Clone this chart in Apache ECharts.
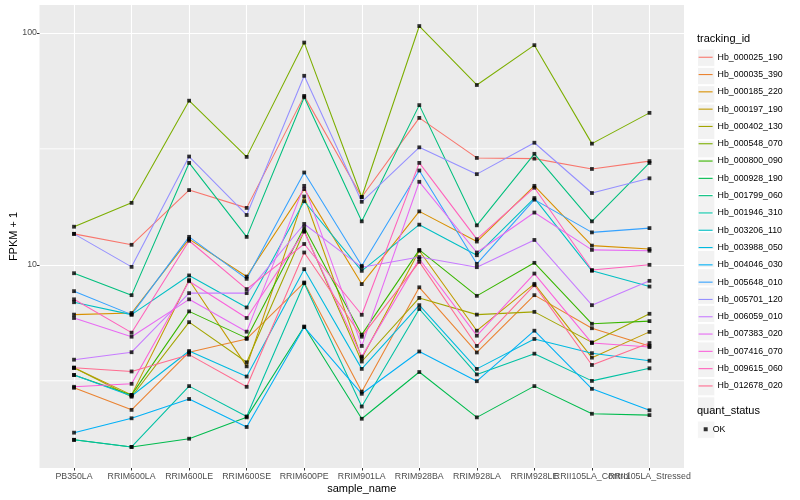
<!DOCTYPE html>
<html><head><meta charset="utf-8">
<script src="https://cdn.jsdelivr.net/npm/echarts@6/dist/echarts.min.js"></script>
<style>html,body{margin:0;padding:0;background:#fff}#c{width:800px;height:500px}</style>
</head><body><div id="c"></div>
<script>
const categories = ["PB350LA","RRIM600LA","RRIM600LE","RRIM600SE","RRIM600PE","RRIM901LA","RRIM928BA","RRIM928LA","RRIM928LE","RRII105LA_Control","RRII105LA_Stressed"];
const trackingIds = ["Hb_000025_190","Hb_000035_390","Hb_000185_220","Hb_000197_190","Hb_000402_130","Hb_000548_070","Hb_000800_090","Hb_000928_190","Hb_001799_060","Hb_001946_310","Hb_003206_110","Hb_003988_050","Hb_004046_030","Hb_005648_010","Hb_005701_120","Hb_006059_010","Hb_007383_020","Hb_007416_070","Hb_009615_060","Hb_012678_020"];
const trackingColors = ["#F8766D","#EA8331","#D89000","#C09B00","#A3A500","#7CAE00","#39B600","#00BB4E","#00BF7D","#00C1A3","#00BFC4","#00BAE0","#00B0F6","#35A2FF","#9590FF","#C77CFF","#E76BF3","#FA62DB","#FF62BC","#FF6C90"];
const yTickValues = [10, 100];
const yTickLabels = ["10", "100"];
const yMinorValues = [3.1623, 31.623];

const Hb_000025_190 = [13.6, 12.2, 21.0, 17.6, 53.5, 19.6, 43.0, 28.9, 28.7, 25.9, 28.0];
const Hb_000035_390 = [2.95, 2.37, 4.2, 4.79, 8.39, 2.84, 8.0, 4.19, 7.4, 5.33, 4.47];
const Hb_000185_220 = [6.1, 6.2, 12.9, 8.9, 21.2, 8.26, 17.0, 12.6, 21.9, 12.1, 11.7];
const Hb_000197_190 = [3.6, 2.75, 8.6, 3.65, 19.7, 3.96, 11.5, 5.2, 8.28, 3.98, 5.14];
const Hb_000402_130 = [3.6, 2.7, 5.66, 3.8, 14.0, 3.83, 7.2, 6.1, 6.27, 4.63, 6.15];
const Hb_000548_070 = [14.6, 18.5, 51.0, 29.2, 90.8, 19.6, 107, 59.6, 88.5, 33.3, 45.2];
const Hb_000800_090 = [3.35, 2.75, 6.3, 4.83, 14.5, 5.0, 11.6, 7.35, 10.2, 5.57, 5.72];
const Hb_000928_190 = [1.76, 1.64, 1.78, 2.2, 5.42, 2.17, 3.45, 2.2, 3.0, 2.28, 2.25];
const Hb_001799_060 = [9.2, 7.4, 27.5, 13.2, 52.8, 15.4, 48.8, 14.8, 30.1, 15.4, 27.5];
const Hb_001946_310 = [1.76, 1.64, 3.0, 2.22, 8.33, 2.45, 6.45, 3.37, 4.14, 3.16, 3.58];
const Hb_003206_110 = [6.9, 6.1, 9.0, 6.55, 18.8, 9.42, 14.9, 11.0, 19.4, 9.42, 8.06];
const Hb_003988_050 = [3.35, 2.72, 4.25, 3.3, 9.58, 3.56, 6.7, 3.56, 4.79, 4.16, 3.86];
const Hb_004046_030 = [1.89, 2.18, 2.64, 2.0, 5.39, 2.78, 4.23, 3.15, 5.2, 2.92, 2.36];
const Hb_005648_010 = [7.7, 6.1, 13.2, 8.7, 25.0, 9.9, 25.5, 10.1, 19.1, 13.8, 14.4];
const Hb_005701_120 = [13.6, 9.8, 29.3, 16.4, 65.3, 18.7, 32.1, 24.6, 33.6, 20.4, 23.6];
const Hb_006059_010 = [3.9, 4.2, 7.55, 7.55, 15.0, 9.77, 10.8, 9.77, 12.8, 6.7, 8.53];
const Hb_007383_020 = [5.9, 4.9, 7.1, 5.15, 21.9, 4.47, 22.8, 11.3, 16.8, 11.6, 11.5];
const Hb_007416_070 = [2.98, 3.07, 8.5, 5.9, 13.9, 4.02, 10.6, 4.95, 9.17, 4.6, 4.42];
const Hb_009615_060 = [7.1, 5.1, 12.7, 7.86, 12.3, 6.09, 27.5, 12.9, 21.5, 9.5, 10.0];
const Hb_012678_020 = [3.6, 3.47, 4.1, 2.98, 11.3, 4.9, 10.3, 4.47, 8.17, 3.7, 4.6];

const trackingValues = [Hb_000025_190, Hb_000035_390, Hb_000185_220, Hb_000197_190, Hb_000402_130, Hb_000548_070, Hb_000800_090, Hb_000928_190, Hb_001799_060, Hb_001946_310, Hb_003206_110, Hb_003988_050, Hb_004046_030, Hb_005648_010, Hb_005701_120, Hb_006059_010, Hb_007383_020, Hb_007416_070, Hb_009615_060, Hb_012678_020];

// ggplot-like expansion: discrete axis 0.6 units each side, log axis 5% each side
const xMin = -0.6, xMax = categories.length - 1 + 0.6;
const allVals = [].concat(...trackingValues);
const lmin = Math.log10(Math.min(...allVals)), lmax = Math.log10(Math.max(...allVals));
const span = lmax - lmin;
const yMin = Math.pow(10, lmin - 0.05 * span), yMax = Math.pow(10, lmax + 0.05 * span);

const FONT = "'Liberation Sans', Arial, Helvetica, sans-serif";
const catIdx = categories.map((c, i) => i);
const catEven = catIdx.filter(i => i % 2 === 0);
const catOdd = catIdx.filter(i => i % 2 === 1);

// minor horizontal grid lines (ggplot minor breaks), spanning the panel, drawn first (under data lines)
const minorGridSeries = yMinorValues.map((v, j) => ({
  name: 'minorGrid' + j, type: 'line', data: [[xMin, v], [xMax, v]], showSymbol: false, symbol: 'none',
  clip: false, lineStyle: { color: '#FFFFFF', width: 0.9, opacity: 1 }, z: 2, silent: true, animation: false
}));
const lineSeries = trackingIds.map((id, k) => ({
  name: id, type: 'line', data: trackingValues[k].map((v, i) => [i, v]),
  showSymbol: false, symbol: 'none', color: trackingColors[k],
  lineStyle: { width: 1.07, color: trackingColors[k] }, z: 2, animation: false, silent: true
}));
const pointData = [];
trackingValues.forEach(arr => arr.forEach((v, i) => pointData.push([i, v])));
const pointSeries = { name: 'OK', type: 'scatter', data: pointData, symbol: 'rect', symbolSize: 3.8,
  itemStyle: { color: '#000' }, z: 3, animation: false, silent: true };

const xLabelBase = { color: '#4D4D4D', fontSize: 8.8, margin: 4, fontFamily: FONT, hideOverlap: false, showMinLabel: true, showMaxLabel: true,
  formatter: v => categories[Math.round(v)] };
function xAxisFor(vals, withName) {
  const ax = {
    type: 'value', min: xMin, max: xMax, position: 'bottom', offset: 0,
    axisLine: { show: false, onZero: false },
    axisTick: { show: true, length: 2.5, customValues: vals, lineStyle: { color: '#333', width: 1 } },
    axisLabel: Object.assign({ customValues: vals }, xLabelBase),
    splitLine: { show: true, lineStyle: { color: '#FFFFFF', width: 1.1 } }
  };
  if (withName) Object.assign(ax, { name: 'sample_name', nameLocation: 'middle', nameGap: 15, nameMoveOverlap: false,
    nameTextStyle: { color: '#000', fontSize: 11, fontFamily: FONT } });
  return ax;
}
const legendTop = 48.6, keyH = 17.3;
const option = {
  animation: false,
  textStyle: { fontFamily: FONT },
  grid: { left: 39.5, top: 5, width: 644.5, height: 463, show: true, backgroundColor: '#EBEBEB', borderWidth: 0, containLabel: false, outerBoundsMode: 'none' },
  xAxis: [xAxisFor(catEven, true), xAxisFor(catOdd, false)],
  yAxis: {
    type: 'log', logBase: 10, min: yMin, max: yMax,
    name: 'FPKM + 1', nameLocation: 'middle', nameGap: 20, nameMoveOverlap: false,
    nameTextStyle: { color: '#000', fontSize: 11, fontFamily: FONT },
    axisLine: { show: false, onZero: false },
    axisTick: { show: true, length: 2.5, customValues: yTickValues, lineStyle: { color: '#333', width: 1 } },
    axisLabel: { customValues: yTickValues, formatter: v => yTickLabels[yTickValues.indexOf(Math.round(v))] || String(v), color: '#4D4D4D', fontSize: 8.8, margin: 2.5, fontFamily: FONT, showMinLabel: true, showMaxLabel: true },
    splitLine: { show: true, lineStyle: { color: '#FFFFFF', width: 1.1 } }
  },
  legend: [
    { data: trackingIds, orient: 'vertical', left: 697, top: legendTop, padding: 0, itemWidth: keyH, itemHeight: keyH, itemGap: 0,
      icon: 'rect', itemStyle: { color: '#F2F2F2', borderColor: '#FFFFFF', borderWidth: 1 }, selectedMode: false,
      textStyle: { fontSize: 8.8, lineHeight: keyH, color: 'rgba(0,0,0,0)', fontFamily: FONT }, itemTextGap: 4 },
    { data: trackingIds, orient: 'vertical', left: 698.6, top: legendTop, padding: 0, itemWidth: 14, itemHeight: keyH, itemGap: 0,
      icon: 'path://M0,0H14V1.1H0Z', itemStyle: { borderWidth: 0 }, selectedMode: false,
      textStyle: { fontSize: 8.8, lineHeight: keyH, color: '#000', fontFamily: FONT }, itemTextGap: 3.4 },
    { data: ['OK'], orient: 'vertical', left: 697, top: 420.6, padding: 0, itemWidth: keyH, itemHeight: keyH, itemGap: 0,
      icon: 'rect', itemStyle: { color: '#F2F2F2', borderColor: '#FFFFFF', borderWidth: 1 }, selectedMode: false,
      textStyle: { fontSize: 8.8, lineHeight: keyH, color: 'rgba(0,0,0,0)', fontFamily: FONT } },
    { data: ['OK'], orient: 'vertical', left: 703.7, top: 420.6, padding: 0, itemWidth: 4, itemHeight: 4, itemGap: 0,
      icon: 'rect', itemStyle: { color: '#000', borderWidth: 0 }, selectedMode: false,
      textStyle: { fontSize: 8.8, lineHeight: keyH, color: '#000', fontFamily: FONT }, itemTextGap: 8.6 }
  ],
  graphic: [
    { type: 'text', left: 697, top: 33, z: 100, style: { text: 'tracking_id', fontSize: 11, fill: '#000', fontFamily: FONT } },
    { type: 'text', left: 697, top: 405, z: 100, style: { text: 'quant_status', fontSize: 11, fill: '#000', fontFamily: FONT } }
  ],
  series: minorGridSeries.concat(lineSeries, [pointSeries])
};
const chart = echarts.init(document.getElementById('c'), null, { renderer: 'canvas' });
chart.setOption(option);
</script></body></html>
